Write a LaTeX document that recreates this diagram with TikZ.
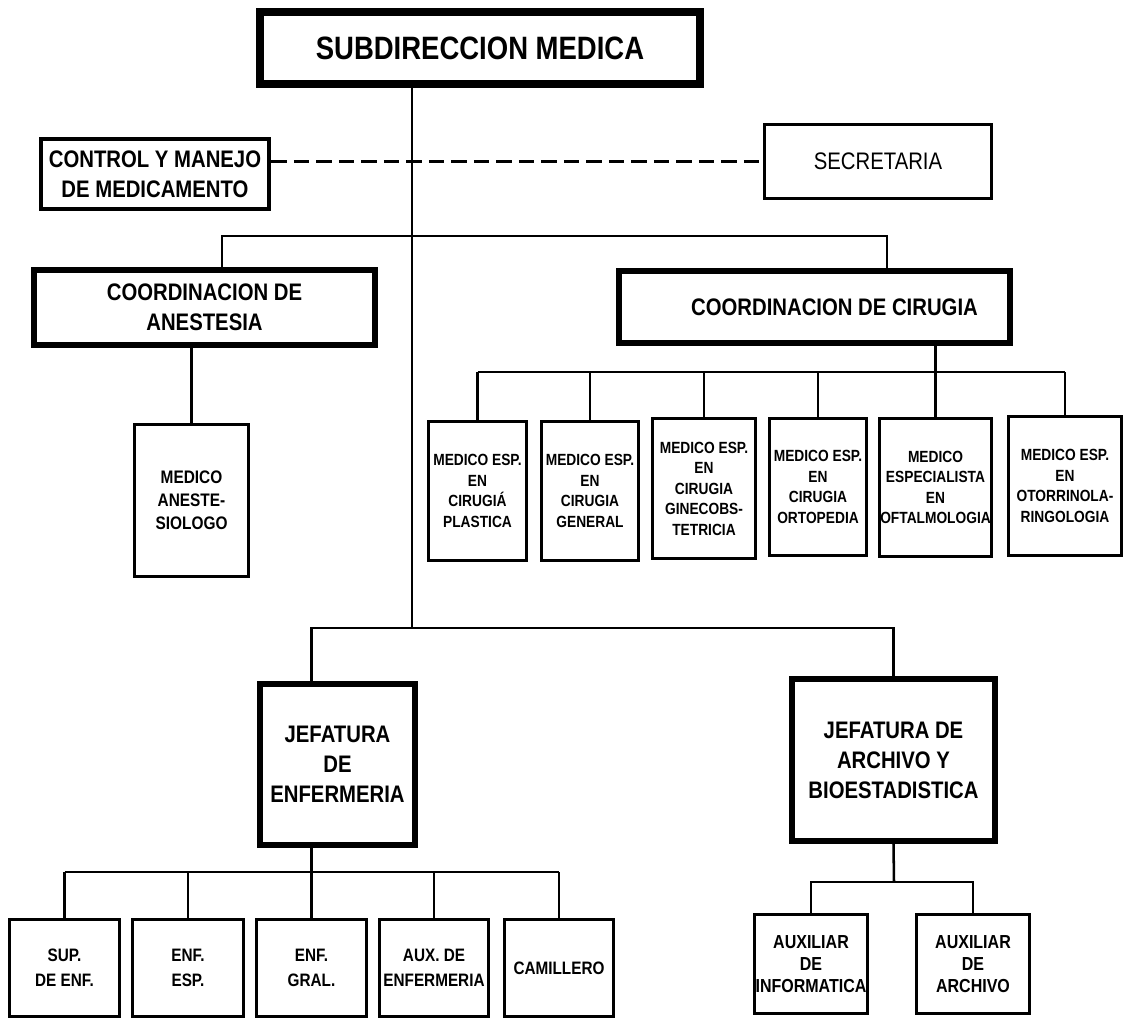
\documentclass[tikz,border=0pt]{standalone}
\usepackage{fontspec}
\setmainfont{Liberation Sans}[FakeStretch=0.85]
\newlength{\pxu}
\setlength{\pxu}{0.025cm}

\begin{document}
\begin{tikzpicture}[x=0.025cm,y=-0.025cm]
      \tikzstyle{every node}+=[inner sep=0pt, align=center]
      \tikzset{wh/.style 2 args={minimum width=#1\pxu, minimum height=#2\pxu}}
      \tikzstyle{headbox}=[draw, line width=5.4pt, font=\bfseries\fontsize{23}{27}\selectfont]
      \tikzstyle{unitbox}=[draw, line width=4pt, font=\bfseries\fontsize{17}{21.3}\selectfont]
      \tikzstyle{staffbox}=[draw, line width=2.7pt, font=\bfseries\fontsize{11.5}{14.6}\selectfont]
      \tikzstyle{nursebox}=[draw, line width=2.7pt, font=\bfseries\fontsize{12.8}{17.8}\selectfont]
      \tikzstyle{link}=[line width=1.8pt]
      \useasboundingbox (0,0) rectangle (1130,1021);

      % direccion y apoyo
      \node[headbox, wh={440}{72}] (sub) at (480,48) {SUBDIRECCION MEDICA};
      \node[unitbox, line width=3.5pt, wh={228}{70}] (ctrl) at (155,174) {CONTROL Y MANEJO\\DE MEDICAMENTO};
      \node[draw, line width=2.8pt, font=\fontsize{17}{21}\selectfont, wh={227}{74}] (secr) at (878,161.5) {SECRETARIA};

      % coordinaciones
      \node[unitbox, wh={341}{75}] (anes) at (204.5,307.5) {COORDINACION DE\\ANESTESIA};
      \node[unitbox, wh={391}{72}] (cir) at (814.5,307) {\hspace{40\pxu}COORDINACION DE CIRUGIA};
      \node[staffbox, font=\bfseries\fontsize{12.9}{16.4}\selectfont, wh={114}{152}] (anest) at (191.5,500.5) {MEDICO\\ANESTE-\\SIOLOGO};

      \node[staffbox, wh={98}{139}] (m1) at (477.5,491) {MEDICO ESP.\\EN\\CIRUGIÁ\\PLASTICA};
      \node[staffbox, wh={97}{139}] (m2) at (590,491) {MEDICO ESP.\\EN\\CIRUGIA\\GENERAL};
      \node[staffbox, wh={103}{140}] (m3) at (704,488.5) {MEDICO ESP.\\EN\\CIRUGIA\\GINECOBS-\\TETRICIA};
      \node[staffbox, wh={97}{137}] (m4) at (818,487) {MEDICO ESP.\\EN\\CIRUGIA\\ORTOPEDIA};
      \node[staffbox, wh={112}{138}] (m5) at (935.5,487.5) {MEDICO\\ESPECIALISTA\\EN\\OFTALMOLOGIA};
      \node[staffbox, wh={113}{139}] (m6) at (1065,486) {MEDICO ESP.\\EN\\OTORRINOLA-\\RINGOLOGIA};

      % jefaturas
      \node[unitbox, wh={155}{161}] (jenf) at (337.5,764.5) {JEFATURA\\DE\\ENFERMERIA};
      \node[unitbox, wh={203}{162}] (jarch) at (893.5,760) {JEFATURA DE\\ARCHIVO Y\\BIOESTADISTICA};

      \node[nursebox, wh={110}{97}] (e1) at (64.5,968) {SUP.\\DE ENF.};
      \node[nursebox, wh={111}{97}] (e2) at (188,968) {ENF.\\ESP.};
      \node[nursebox, wh={110}{97}] (e3) at (311.5,968) {ENF.\\GRAL.};
      \node[nursebox, wh={109}{97}] (e4) at (434,968) {AUX. DE\\ENFERMERIA};
      \node[nursebox, wh={109}{97}] (e5) at (559,968) {CAMILLERO};

      \node[nursebox, font=\bfseries\fontsize{13.4}{15.6}\selectfont, wh={113}{99}] (a1) at (811,964) {AUXILIAR\\DE\\INFORMATICA};
      \node[nursebox, font=\bfseries\fontsize{13.4}{15.6}\selectfont, wh={113}{99}] (a2) at (973,964) {AUXILIAR\\DE\\ARCHIVO};

      % lineas
      \coordinate (trunk) at (412,628);
      \coordinate (anesdrop) at (222,236);
      \coordinate (cirdrop) at (887,236);
      \coordinate (cirbus) at (0,372);
      \coordinate (enfbus) at (0,872);
      \coordinate (archbus) at (894,882);

      \draw[link] (sub.south -| trunk) -- (trunk);
      \draw[link, dash pattern=on 11pt off 5pt] (ctrl.east |- secr.west) -- (secr.west);
      \draw[link] (anes.north -| anesdrop) -- (anesdrop) -- (cirdrop) -- (cir.north -| cirdrop);
      \draw[link] (anes.south -| anest.north) -- (anest.north);

      \draw[link] (cir.south -| m5.north) -- (m5.north);
      \draw[link] (m1.north |- cirbus) -- (m6.north |- cirbus);
      \foreach \m in {m1,m2,m3,m4,m6}
        \draw[link] (\m.north |- cirbus) -- (\m.north);

      \draw[link] (e3.north |- jenf.north) |- (trunk) -| (jarch.north);
      \draw[link] (jenf.south -| e3.north) -- (e3.north);
      \draw[link] (e1.north |- enfbus) -- (e5.north |- enfbus);
      \foreach \e in {e1,e2,e4,e5}
        \draw[link] (\e.north |- enfbus) -- (\e.north);

      \draw[link] (jarch.south) -- (archbus);
      \draw[link] (a1.north) |- (archbus) -| (a2.north);
    \end{tikzpicture}
\end{document}
